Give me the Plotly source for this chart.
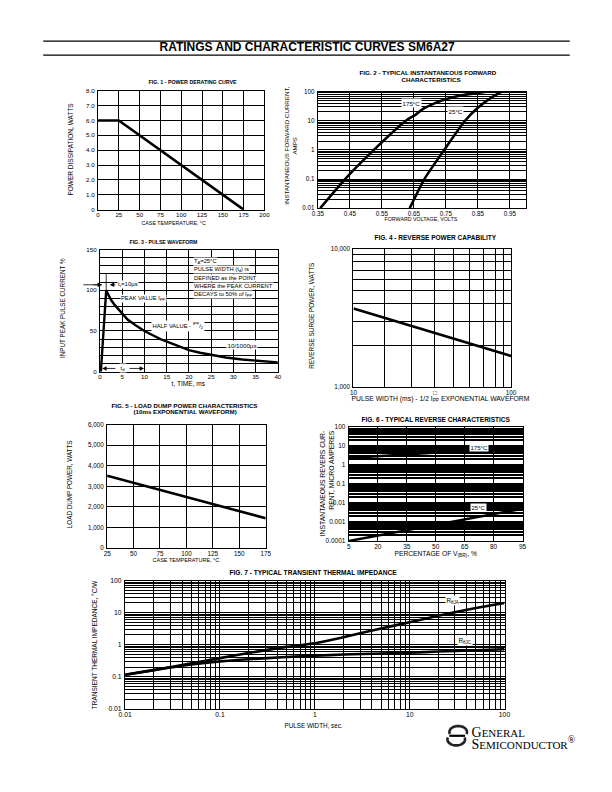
import math
import plotly.graph_objects as go

W, H = 612, 792
SANS = "'Liberation Sans', Arial, sans-serif"
SERIF = "'Liberation Serif', 'Times New Roman', serif"

# ---------------- data ----------------
# Fig 1 - power derating
fig1_temp_c = [0, 25, 175]
fig1_power_w = [6.0, 6.0, 0.0]
fig1_xticks = [0, 25, 50, 75, 100, 125, 150, 175, 200]
fig1_yticks = [0, 1, 2, 3, 4, 5, 6, 7, 8]
fig1_ytext = ["0", "1.0", "2.0", "3.0", "4.0", "5.0", "6.0", "7.0", "8.0"]

# Fig 2 - forward characteristics
fig2_v_175 = [0.357, 0.435, 0.525, 0.625, 0.655, 0.68, 0.72, 0.75, 0.80, 0.85, 0.875]
fig2_i_175 = [0.01, 0.1, 1.0, 10.0, 16.0, 26.0, 42.0, 55.0, 75.0, 90.0, 100.0]
fig2_v_25 = [0.637, 0.683, 0.745, 0.81, 0.85, 0.89, 0.925]
fig2_i_25 = [0.01, 0.1, 1.0, 10.0, 28.0, 60.0, 100.0]
fig2_xticks = [0.35, 0.45, 0.55, 0.65, 0.75, 0.85, 0.95]
fig2_xtext = ["0.35", "0.45", "0.55", "0.65", "0.75", "0.85", "0.95"]
fig2_ydecades = ["0.01", "0.1", "1", "10", "100"]

# Fig 3 - pulse waveform
fig3_t_ms = [0.2, 1.4, 1.7, 2.0, 2.5, 3.3, 4.2, 5.0, 6.2, 8.0, 10.0, 12.0, 13.6, 15.5, 17.0,
             20.0, 22.5, 25.0, 28.3, 32.0, 35.6, 40.0]
fig3_pct = [0, 100, 96.5, 93, 88, 82, 76, 71, 64, 57, 50, 44.5, 40, 36, 32.5,
            26.5, 23.3, 20.5, 17.5, 15.0, 13.4, 11.5]
fig3_xticks = [0, 5, 10, 15, 20, 25, 30, 35, 40]
fig3_ylabels = {0: "0", 50: "50", 100: "100", 150: "150"}

# Fig 4 - reverse power capability
fig4_width_ms = [10, 100]
fig4_power_w = [3700, 1680]
fig4_xgrid = [10, 15.8, 23.3, 32.9, 43.4, 54.6, 66.7, 79.6, 89.5, 100]
fig4_xtext = ["10", "", "", "\u25a1", "", "", "", "", "", "100"]

# Fig 5 - load dump power
fig5_temp_c = [25, 175]
fig5_power_w = [3520, 1450]
fig5_xticks = [25, 50, 75, 100, 125, 150, 175]
fig5_yticks = [0, 1000, 2000, 3000, 4000, 5000, 6000]
fig5_ytext = ["0", "1,000", "2,000", "3,000", "4,000", "5,000", "6,000"]

# Fig 6 - reverse characteristics
fig6_pct = [5, 95]
fig6_i_175 = [2.3, 8.5]
fig6_i_25 = [0.0001, 0.005]
fig6_xticks = [5, 20, 35, 50, 65, 80, 95]
fig6_ydecades = ["0.0001", "0.001", "0.01", "0.1", "1", "10", "100"]

# Fig 7 - transient thermal impedance
fig7_t_s = [0.01, 0.02, 0.05, 0.1, 0.2, 0.5, 1, 2, 5, 10, 20, 50, 100]
fig7_rja = [0.115, 0.16, 0.26, 0.38, 0.55, 0.85, 1.1, 1.7, 3.2, 5.0, 8.0, 14.0, 20.0]
fig7_rjc = [0.115, 0.16, 0.24, 0.30, 0.35, 0.41, 0.45, 0.49, 0.53, 0.56, 0.61, 0.67, 0.72]
fig7_decades = ["0.01", "0.1", "1", "10", "100"]


# ---------------- helpers ----------------
def X(px):
    return px / W


def Y(py):
    return 1 - py / H


boxes = {
    1: (93, 263, 87.5, 207.5),
    2: (317.7, 530, 88.4, 206),
    3: (95, 276.7, 247.7, 371),
    4: (354, 515, 246.7, 386.7),
    5: (102.3, 264.3, 424.3, 549),
    6: (349.3, 526.7, 426.7, 541.7),
    7: (120.7, 508.3, 581.7, 711),
}
tick_size = {1: 6.2, 2: 6.3, 3: 6.2, 4: 6.3, 5: 6.3, 6: 6.5, 7: 6.8}


def log_grid(lo, hi):
    return [m * 10 ** e for e in range(lo, hi) for m in range(1, 10)] + [10 ** hi]


def log_text(lo, hi, labels):
    out = []
    li = 0
    for e in range(lo, hi):
        for m in range(1, 10):
            if m == 1:
                out.append(labels[li]); li += 1
            else:
                out.append("")
    out.append(labels[li])
    return out


def axis(n, which, rng, typ, tickvals, ticktext, gridw=1.0):
    x0, x1, y0, y1 = boxes[n]
    dom = [X(x0), X(x1)] if which == "x" else [Y(y1), Y(y0)]
    return dict(
        domain=dom, range=rng, type=typ,
        tickmode="array", tickvals=tickvals, ticktext=ticktext,
        showgrid=True, gridcolor="black", gridwidth=gridw,
        zeroline=False, showline=True, linecolor="black", linewidth=1.3,
        mirror=True, ticks="", ticklabelstandoff=(-1 if which == "x" else 1),
        tickfont=dict(size=tick_size[n], color="black", family=SANS),
        anchor=("y" if which == "x" else "x") + ("" if n == 1 else str(n)),
        fixedrange=True,
    )


annotations = []
shapes = []


def text(px, py, s, size=5.5, angle=0, xanchor="center", align="center", bg=None, family=SANS, pad=0.5):
    a = dict(x=X(px), y=Y(py), xref="paper", yref="paper", text=s, showarrow=False,
             font=dict(size=size, family=family, color="black"), textangle=angle,
             xanchor=xanchor, yanchor="middle", align=align, borderpad=pad)
    if bg:
        a["bgcolor"] = bg
    annotations.append(a)


def arrow(xh, yh, xt, yt):
    annotations.append(dict(x=X(xh), y=Y(yh), xref="paper", yref="paper",
                            ax=xt - xh, ay=yt - yh, axref="pixel", ayref="pixel",
                            showarrow=True, arrowhead=2, arrowsize=1.1, arrowwidth=0.8,
                            arrowcolor="black", text="", standoff=0, startstandoff=0))


def hline(xa, xb, yy, w=1.0):
    shapes.append(dict(type="line", xref="paper", yref="paper", x0=X(xa), x1=X(xb),
                       y0=Y(yy), y1=Y(yy), line=dict(color="black", width=w)))


fig = go.Figure()


def curve(xs, ys, n, width=2.6, smooth=False):
    suffix = "" if n == 1 else str(n)
    line = dict(color="black", width=width)
    if smooth:
        line.update(shape="spline", smoothing=0.6)
    fig.add_trace(go.Scatter(x=xs, y=ys, mode="lines", xaxis="x" + suffix, yaxis="y" + suffix,
                             line=line, showlegend=False, hoverinfo="skip"))


# ---------------- traces ----------------
curve(fig1_temp_c, fig1_power_w, 1)
curve(fig2_v_175, fig2_i_175, 2, smooth=True)
curve(fig2_v_25, fig2_i_25, 2, smooth=True)
curve(fig3_t_ms, fig3_pct, 3, width=2.4)
pk = fig3_pct.index(max(fig3_pct))
fig.add_trace(go.Scatter(x=[fig3_t_ms[pk], fig3_t_ms[pk]], y=[fig3_pct[pk], fig3_pct[pk] + 21],
                         mode="lines", xaxis="x3", yaxis="y3", line=dict(color="black", width=0.8),
                         showlegend=False, hoverinfo="skip"))
curve(fig4_width_ms, fig4_power_w, 4)
curve(fig5_temp_c, fig5_power_w, 5)
curve(fig6_pct, fig6_i_175, 6)
curve(fig6_pct, fig6_i_25, 6)
curve(fig7_t_s, fig7_rja, 7, smooth=True)
curve(fig7_t_s, fig7_rjc, 7, smooth=True)

# ---------------- axes ----------------
layout_axes = {}
layout_axes["xaxis"] = axis(1, "x", [0, 200], "linear", fig1_xticks, [str(v) for v in fig1_xticks])
layout_axes["yaxis"] = axis(1, "y", [0, 8], "linear", fig1_yticks, fig1_ytext)

layout_axes["xaxis2"] = axis(2, "x", [0.35, 1.0], "linear", fig2_xticks, fig2_xtext, gridw=1.2)
layout_axes["yaxis2"] = axis(2, "y", [-2, 2], "log", log_grid(-2, 2), log_text(-2, 2, fig2_ydecades), gridw=1.2)

f3_yvals = list(range(0, 151, 10))
layout_axes["xaxis3"] = axis(3, "x", [0, 40], "linear", fig3_xticks, [str(v) for v in fig3_xticks])
layout_axes["yaxis3"] = axis(3, "y", [0, 150], "linear", f3_yvals, [fig3_ylabels.get(v, "") for v in f3_yvals])

f4_yvals = [1000 * m for m in range(1, 11)]
f4_ytext = ["1,000"] + [""] * 8 + ["10,000"]
layout_axes["xaxis4"] = axis(4, "x", [1, 2], "log", fig4_xgrid, fig4_xtext)
layout_axes["yaxis4"] = axis(4, "y", [3, 4], "log", f4_yvals, f4_ytext)

layout_axes["xaxis5"] = axis(5, "x", [25, 175], "linear", fig5_xticks, [str(v) for v in fig5_xticks])
layout_axes["yaxis5"] = axis(5, "y", [0, 6000], "linear", fig5_yticks, fig5_ytext)

layout_axes["xaxis6"] = axis(6, "x", [5, 95], "linear", fig6_xticks, [str(v) for v in fig6_xticks], gridw=1.3)
layout_axes["yaxis6"] = axis(6, "y", [-4, 2], "log", log_grid(-4, 2), log_text(-4, 2, fig6_ydecades), gridw=1.5)

layout_axes["xaxis7"] = axis(7, "x", [-2, 2], "log", log_grid(-2, 2), log_text(-2, 2, fig7_decades))
layout_axes["yaxis7"] = axis(7, "y", [-2, 2], "log", log_grid(-2, 2), log_text(-2, 2, fig7_decades))

# ---------------- page header ----------------
hline(37, 575, 37.5, 1.3)
hline(37, 575, 51.5, 1.3)
text(306, 43.3, "<b>RATINGS AND CHARACTERISTIC CURVES SM6A27</b>", size=12)

# ---------------- titles & axis labels ----------------
B = lambda s: "<b>" + s + "</b>"
text(190, 78.3, B("FIG. 1 - POWER DERATING CURVE"), size=5.3)
text(170, 220.7, "CASE TEMPERATURE, \u00b0C", size=5.3)
text(65, 146.7, "POWER DISSIPATION, WATTS", angle=-90, size=6.5)

text(430, 68.3, B("FIG. 2 - TYPICAL INSTANTANEOUS FORWARD"), size=6.2)
text(433, 75.9, B("CHARACTERISTICS"), size=6.2)
text(423.3, 216, "FORWARD VOLTAGE, VOLTS", size=5.3)
text(289.7, 143, "INSTANTANEOUS FORWARD CURRENT,<br>AMPS", angle=-90, size=6.2)
text(413.3, 100, "175\u00b0C", bg="white", size=6.2)
text(458.3, 107.7, "25\u00b0C", bg="white", size=6.2)

text(160, 240, B("FIG. 3 - PULSE WAVEFORM"), size=5.2)
text(185, 382.3, "t, TIME, ms", size=6.6)
text(56.7, 306.7, "INPUT PEAK PULSE CURRENT %", angle=-90, size=6.3)
f3_top, f3_pxu = boxes[3][2], (boxes[3][3] - boxes[3][2]) / 150.0
for i, s in enumerate(["T<sub>A</sub>=25\u00b0C", "PULSE WIDTH (t<sub>d</sub>) is", "DEFINED as the POINT",
                       "WHERE the PEAK CURRENT", "DECAYS to 50% of I<sub>PP</sub>"]):
    row_val = 135 - 10 * i
    text(190, f3_top + (150 - row_val) * f3_pxu, s, xanchor="left", align="left", bg="white",
         size=5.8, pad=0)
hline(78, 97, 283.3, 0.8)
arrow(97, 283.3, 87, 283.3)
arrow(105, 283.3, 112, 283.3)
text(112, 283.3, "t<sub>r</sub>=10\u00b5s", xanchor="left", bg="white", size=6.0, pad=0)
text(115, 296.7, "PEAK VALUE I<sub>PP</sub>", xanchor="left", bg="white", size=5.8, pad=0)
text(175, 325, "HALF VALUE - <sup>IPP</sup>/<sub>2</sub>", bg="white", size=5.8)
text(240, 344.3, "10/1000\u00b5s", bg="white", size=6.2)
arrow(97.3, 367.7, 112, 367.7)
arrow(140, 367.7, 124, 367.7)
text(118.3, 367.7, "t<sub>d</sub>", bg="white", size=6.0)

text(437.5, 235, B("FIG. 4 - REVERSE POWER CAPABILITY"), size=6.5)
text(443.3, 398, "PULSE WIDTH (ms) - 1/2 I<sub>PP</sub> EXPONENTIAL WAVEFORM", size=6.8)
text(311.7, 315, "REVERSE SURGE POWER, WATTS", angle=-90, size=6.4)

text(181.7, 404.2, B("FIG. 5 - LOAD DUMP POWER CHARACTERISTICS"), size=6.2)
text(181.7, 410.6, B("(10ms EXPONENTIAL WAVEFORM)"), size=6.2)
text(183.3, 560, "CASE TEMPERATURE, \u00b0C", size=5.5)
text(63.3, 484, "LOAD DUMP POWER, WATTS", angle=-90, size=6.3)

text(438.3, 418.3, B("FIG. 6 - TYPICAL REVERSE CHARACTERISTICS"), size=6.5)
text(438.3, 554, "PERCENTAGE OF V<sub>(BR)</sub>, %", size=6.7)
text(326.7, 483.3, "INSTANTANEOUS REVERS CUR-<br>RENT, MICRO AMPERES", angle=-90, align="right", size=6.8)
text(482.7, 447, "175\u00b0C", bg="white", size=6.0)
text(481.7, 507.7, "25\u00b0C", bg="white", size=6.0)

text(313.3, 573.3, B("FIG. 7 - TYPICAL TRANSIENT THERMAL IMPEDANCE"), size=6.6)
text(313.3, 727.7, "PULSE WIDTH, sec.", size=6.3)
text(89.3, 646, "TRANSIENT THERMAL IMPEDANCE, \u00b0C/W", angle=-90, size=6.5)
text(455, 602.3, "R<sub>\u03b8JA</sub>", bg="white", size=6.3)
text(468.3, 641.7, "R<sub>\u03b8JC</sub>", bg="white", size=6.3)

# ---------------- logo ----------------
text(473, 734, "G<span style='font-size:11px'>ENERAL</span>", size=14, xanchor="left", family=SERIF)
text(473, 746, "S<span style='font-size:11px'>EMICONDUCTOR</span><sup>\u00ae</sup>", size=14,
     xanchor="left", family=SERIF)


def arc_path(cx, cy, rx, ry, a0, a1, n=30):
    pts = []
    for k in range(n + 1):
        a = math.radians(a0 + (a1 - a0) * k / n)
        pts.append((cx + rx * math.cos(a), cy - ry * math.sin(a)))
    return "M " + " L ".join(f"{X(px):.5f},{Y(py):.5f}" for px, py in pts)


shapes.append(dict(type="path", xref="paper", yref="paper", path=arc_path(461, 734.5, 9, 6, -20, 200),
                   line=dict(color="#222", width=2.6)))
shapes.append(dict(type="path", xref="paper", yref="paper", path=arc_path(459, 742, 9, 6, 160, 380),
                   line=dict(color="#222", width=2.6)))
hline(452, 468, 738.3, 2.2)

fig.update_layout(
    width=W, height=H, margin=dict(l=0, r=0, t=0, b=0),
    paper_bgcolor="white", plot_bgcolor="white",
    showlegend=False, annotations=annotations, shapes=shapes,
    font=dict(family=SANS, color="black", size=6),
    **layout_axes,
)

fig.write_html("out.html", config={"displayModeBar": False},
               post_script="document.body.style.margin='0';document.body.style.overflow='hidden';")
